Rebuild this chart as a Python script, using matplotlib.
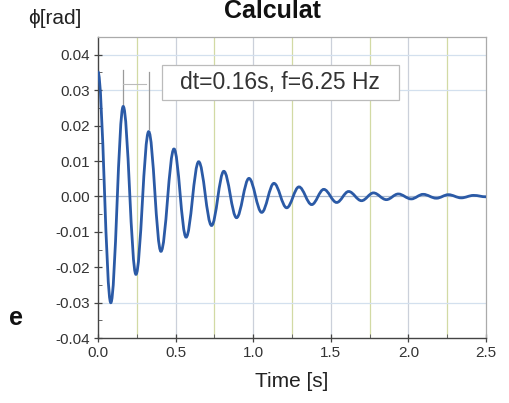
import numpy as np
import matplotlib
matplotlib.use("Agg")
import matplotlib.pyplot as plt
from matplotlib.path import Path
from matplotlib.patches import PathPatch, Rectangle
from matplotlib.ticker import MultipleLocator

plt.rcParams['font.family'] = ['Liberation Sans', 'DejaVu Sans']

# extrema of the damped oscillation
t_ext = [0.0, 0.083, 0.163, 0.245, 0.327, 0.406, 0.490, 0.568, 0.649, 0.732,
         0.811, 0.893, 0.973, 1.055, 1.134, 1.216, 1.295, 1.377, 1.455, 1.538,
         1.615, 1.698, 1.775, 1.858, 1.935, 2.018, 2.095, 2.180, 2.258, 2.340,
         2.420, 2.500]
phi_ext = [0.0352, -0.0300, 0.0254, -0.0220, 0.0183, -0.0155, 0.0134, -0.0115,
           0.0098, -0.0082, 0.0071, -0.0060, 0.0051, -0.0045, 0.0037, -0.0032,
           0.0027, -0.0023, 0.0020, -0.0017, 0.0014, -0.0012, 0.0010, -0.0009,
           0.0007, -0.0007, 0.0006, -0.0005, 0.0005, -0.0004, 0.0003, -0.0001]

# dt markers
mark_t = [0.163, 0.330]
mark_top = [0.0358, 0.0350]
mark_bot = [0.0255, 0.0190]
dim_v = 0.0318

x_ticks = [0.0, 0.5, 1.0, 1.5, 2.0, 2.5]
y_ticks = [-0.04, -0.03, -0.02, -0.01, 0.0, 0.01, 0.02, 0.03, 0.04]
h_grid = [0.04, 0.03, 0.0, -0.03]
v_grid_major = [0.5, 1.0, 1.5, 2.0]
v_grid_minor = [0.25, 0.75, 1.25, 1.75, 2.25]

fig = plt.figure(figsize=(5.10, 4.03), dpi=100)
ax = fig.add_axes([0.192, 0.161, 0.761, 0.747])
ax.set_xlim(0, 2.5)
ax.set_ylim(-0.04, 0.045)

for x in v_grid_minor:
    ax.axvline(x, color='#d2daa4', lw=0.9, zorder=0)
for x in v_grid_major:
    ax.axvline(x, color='#cbd0da', lw=0.9, zorder=0)
for y in h_grid:
    ax.axhline(y, color='#d3e0ee' if y != 0.0 else '#aab8cc', lw=0.9, zorder=0)

# smooth curve through the extrema (horizontal tangents at each extremum)
verts = [(t_ext[0], phi_ext[0])]
codes = [Path.MOVETO]
for i in range(len(t_ext) - 1):
    t0, v0, t1, v1 = t_ext[i], phi_ext[i], t_ext[i + 1], phi_ext[i + 1]
    c = 0.3642 * (t1 - t0)
    verts += [(t0 + c, v0), (t1 - c, v1), (t1, v1)]
    codes += [Path.CURVE4] * 3
ax.add_patch(PathPatch(Path(verts, codes), fill=False, edgecolor='#2b5aa6',
                       lw=2.0, zorder=3))

for t, a, b in zip(mark_t, mark_top, mark_bot):
    ax.plot([t, t], [a, b], color='#9a9a9a', lw=0.9, zorder=2)
ax.plot([mark_t[0], mark_t[1] - 0.02], [dim_v, dim_v], color='#bbbbbb', lw=0.8, zorder=2)

# annotation box
ax.add_patch(Rectangle((0.412, 0.0273), 1.528, 0.0099, fc='white', ec='#bbbbbb',
                       lw=0.9, zorder=4))
ax.text(1.175, 0.0323, "dt=0.16s, f=6.25 Hz", fontsize=16.5, color='#333333',
        ha='center', va='center', zorder=5)

ax.set_xticks(x_ticks)
ax.set_xticklabels([f"{v:.1f}" for v in x_ticks])
ax.set_yticks(y_ticks)
ax.set_yticklabels([f"{v:.2f}" for v in y_ticks])
ax.xaxis.set_minor_locator(MultipleLocator(0.25))
ax.yaxis.set_minor_locator(MultipleLocator(0.005))
ax.tick_params(which='major', direction='inout', length=6, width=0.9,
               labelsize=11, colors='#444444', labelcolor='#333333', pad=3)
ax.tick_params(which='minor', direction='in', length=3, width=0.7, colors='#666666')
ax.tick_params(top=False, right=False, which='both')

for s in ['left', 'bottom']:
    ax.spines[s].set_color('#444444')
    ax.spines[s].set_linewidth(1.0)
for s in ['top', 'right']:
    ax.spines[s].set_color('#aaaaaa')
    ax.spines[s].set_linewidth(0.9)

ax.set_xlabel("Time [s]", fontsize=15, color='#222222', labelpad=8)
fig.text(0.108, 0.955, "ϕ[rad]", fontsize=15, color='#222222', ha='center', va='center')
fig.text(0.535, 0.972, "Calculat", fontsize=18, fontweight='bold', color='#111111',
         ha='center', va='center')
fig.text(0.018, 0.21, "e", fontsize=18, fontweight='bold', color='#111111',
         ha='left', va='center')

fig.savefig("out.png", dpi=100)
